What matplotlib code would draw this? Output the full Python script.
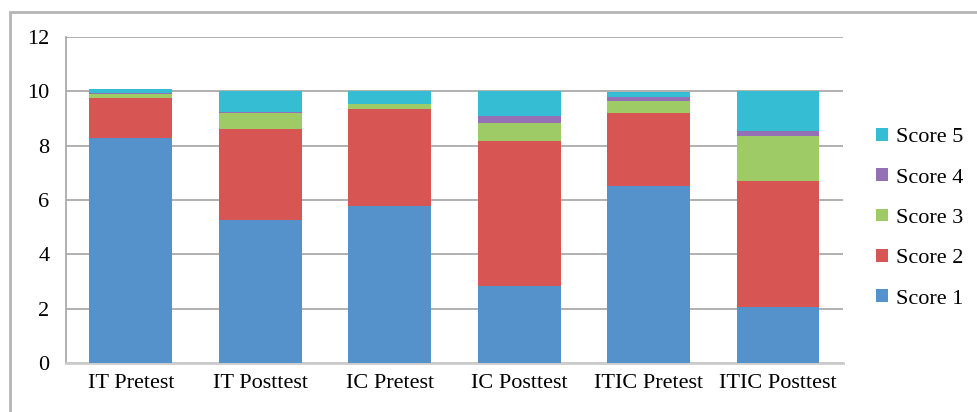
import matplotlib.pyplot as plt
from matplotlib.patches import Rectangle

# Dati
categories = ["IT Pretest", "IT Posttest", "IC Pretest", "IC Posttest", "ITIC Pretest", "ITIC Posttest"]
score1 = [8.30, 5.26, 5.77, 2.85, 6.50, 2.05]
score2 = [1.47, 3.34, 3.58, 5.32, 2.70, 4.65]
score3 = [0.13, 0.59, 0.20, 0.66, 0.45, 1.65]
score4 = [0.05, 0.06, 0.00, 0.25, 0.14, 0.20]
score5 = [0.12, 0.75, 0.45, 0.92, 0.18, 1.45]

series = [score1, score2, score3, score4, score5]
labels = ["Score 1", "Score 2", "Score 3", "Score 4", "Score 5"]
colors = ["#5591cb", "#d75653", "#9fcb66", "#9470b5", "#35bdd4"]

plt.rcParams['font.family'] = ['Liberation Serif', 'DejaVu Serif']

fig = plt.figure(figsize=(9.77, 4.12), dpi=100)
ax = fig.add_axes([0.0676, 0.119, 0.795, 0.791])

# cornice esterna
fig.patches.append(Rectangle((10 / 977, -0.05), 1.0, 1 - 12 / 412 + 0.05,
                             transform=fig.transFigure, fill=False,
                             edgecolor="#b5b5b5", linewidth=2))

x = list(range(len(categories)))
bottom = [0.0] * len(categories)
handles = []
for vals, lab, col in zip(series, labels, colors):
    b = ax.bar(x, vals, width=0.64, bottom=bottom, color=col, label=lab, zorder=3)
    handles.append(b)
    bottom = [bt + v for bt, v in zip(bottom, vals)]

ax.set_ylim(0, 12)
ax.set_xlim(-0.5, len(categories) - 0.5)
ax.set_yticks([0, 2, 4, 6, 8, 10, 12])
ax.set_xticks(x)
ax.set_xticklabels(categories)
ax.yaxis.grid(True, color="#aaaaaa", linewidth=1.3, zorder=0)
ax.tick_params(length=0, labelsize=16, pad=8)
ax.tick_params(axis='y', pad=12)
for s in ["top", "right"]:
    ax.spines[s].set_visible(False)
ax.spines["left"].set_color("#aaaaaa")
ax.spines["bottom"].set_color("#cccccc")
ax.spines["left"].set_linewidth(1.3)
ax.spines["bottom"].set_linewidth(2)

fig.legend(handles[::-1], labels[::-1], loc="center left",
           bbox_to_anchor=(0.888, 0.47), frameon=False, fontsize=16,
           handlelength=0.5, handleheight=0.5, handletextpad=0.4,
           labelspacing=0.95, borderaxespad=0)

fig.savefig("out.png", dpi=100)
